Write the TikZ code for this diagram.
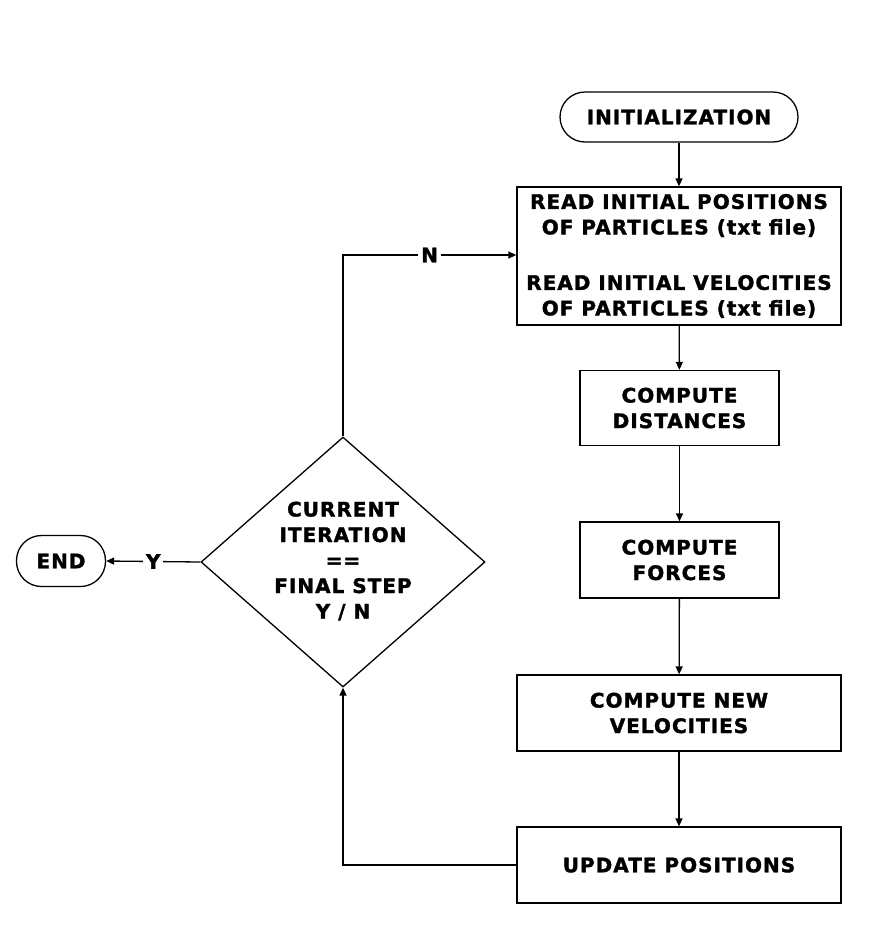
\documentclass[tikz,border=0pt]{standalone}
\usepackage{fontspec}
\setmainfont{DejaVu Sans}[LetterSpace=5, BoldFont=DejaVu Sans Bold, BoldFeatures={FakeBold=1.6}]
\usetikzlibrary{shapes.geometric,arrows.meta}
\begin{document}
\begin{tikzpicture}[x=1pt,y=-1pt,
  every node/.style={font=\fontsize{20}{25.5}\selectfont\bfseries, align=center, inner sep=0pt},
  box/.style={draw, line width=1.3pt, rectangle},
  term/.style={draw, line width=1.3pt, rectangle, rounded corners=25pt},
  lbl/.style={fill=white, inner xsep=3pt},
  arr/.style={line width=1.3pt, -{Triangle[length=8pt,width=7pt]}}
]
\useasboundingbox (0,0) rectangle (885,927);
\node[term, minimum width=238pt, minimum height=50pt] (init) at (679,117) {INITIALIZATION};
\node[box, minimum width=324pt, minimum height=138pt] (read) at (679,256) {READ INITIAL POSITIONS\\OF PARTICLES (txt file)\\[30pt]READ INITIAL VELOCITIES\\OF PARTICLES (txt file)};
\node[box, minimum width=199pt, minimum height=75pt] (dist) at (679.5,408) {COMPUTE\\DISTANCES};
\node[box, minimum width=199pt, minimum height=76pt] (force) at (679.5,560) {COMPUTE\\FORCES};
\node[box, minimum width=324pt, minimum height=76pt] (vel) at (679,713) {COMPUTE NEW\\VELOCITIES};
\node[box, minimum width=324pt, minimum height=76pt] (upd) at (679,865) {UPDATE POSITIONS};
\node[draw, diamond, line width=1.3pt, minimum width=284pt, minimum height=250pt, inner sep=0pt] (dec) at (343,562) {};
\node (dtext) at (343,561) {CURRENT\\ITERATION\\==\\FINAL STEP\\Y / N};
\node[term, minimum width=89pt, minimum height=51pt] (end) at (61,561) {END};
\coordinate (ntop) at (343,255);
\coordinate (ubot) at (343,865);

\draw[arr] (init) -- (read);
\draw[arr] (read) -- (dist);
\draw[arr] (dist) -- (force);
\draw[arr] (force) -- (vel);
\draw[arr] (vel) -- (upd);
\draw[arr] (dec.north) -- (ntop) -- node[lbl] (nl) {N} (read.west |- ntop);
\draw[arr] (upd.west) -- (ubot) -- (dec.south);
\draw[arr] (dec.west) -- node[lbl, pos=0.5] (yl) {Y} (end.east);
\end{tikzpicture}
\end{document}
